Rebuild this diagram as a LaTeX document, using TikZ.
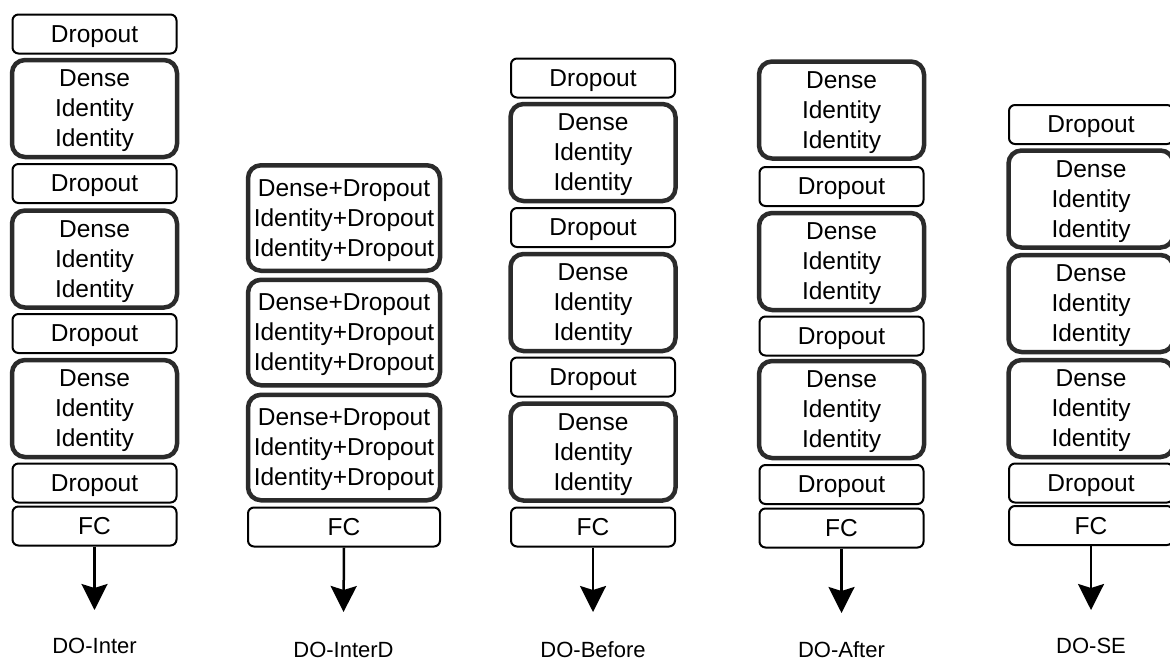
\documentclass[tikz,border=0pt]{standalone}
\usepackage{fontspec}
\setmainfont{Liberation Sans}
\usetikzlibrary{arrows.meta}
\definecolor{thickc}{HTML}{2B2B2B}
\tikzset{
  box/.style={rectangle, inner sep=0pt, align=center, text depth=0pt, font=\fontsize{24.5}{30}\selectfont, fill=white},
  dropbox/.style={box, draw=black, line width=2pt, rounded corners=6pt, minimum width=164pt, minimum height=39pt},
  densebox/.style={box, draw=thickc, line width=4.5pt, rounded corners=13pt, minimum width=165pt, minimum height=97pt},
  widebox/.style={densebox, minimum width=192pt, minimum height=105.5pt},
  widefc/.style={dropbox, minimum width=192pt},
  arr/.style={-{Stealth[length=26pt,width=26pt,inset=4pt]}, line width=2.5pt, black},
  lbl/.style={font=\fontsize{22}{24}\selectfont, inner sep=0pt}
}
\begin{document}
\begin{tikzpicture}[x=1pt,y=-1pt]
\useasboundingbox (0,0) rectangle (1170,662);
% Column 1: DO-Inter
\node[dropbox]  (c1a) at (94.5,34) {Dropout};
\node[densebox] (c1b) at (94.5,108.5) {Dense\\Identity\\Identity};
\node[dropbox]  (c1c) at (94.5,183.5) {Dropout};
\node[densebox] (c1d) at (94.5,259) {Dense\\Identity\\Identity};
\node[dropbox]  (c1e) at (94.5,333.5) {Dropout};
\node[densebox] (c1f) at (94.5,408.5) {Dense\\Identity\\Identity};
\node[dropbox]  (c1g) at (94.5,483) {Dropout};
\node[dropbox]  (c1h) at (94.5,526) {FC};
\coordinate (c1t) at (94.5,610);
\draw[arr] (c1h.south) -- (c1t);
\node[lbl] (c1l) at (94.5,646) {DO-Inter};
% Column 2: DO-InterD
\node[widebox] (c2a) at (344,218) {Dense+Dropout\\Identity+Dropout\\Identity+Dropout};
\node[widebox] (c2b) at (344,332.5) {Dense+Dropout\\Identity+Dropout\\Identity+Dropout};
\node[widebox] (c2c) at (344,447.5) {Dense+Dropout\\Identity+Dropout\\Identity+Dropout};
\node[widefc]  (c2d) at (344,527) {FC};
\coordinate (c2t) at (343.5,612);
\draw[arr] (c2d.south) -- (c2t);
\node[lbl] (c2l) at (343.5,650) {DO-InterD};
% Column 3: DO-Before
\node[dropbox]  (c3a) at (593,78) {Dropout};
\node[densebox] (c3b) at (593,152.5) {Dense\\Identity\\Identity};
\node[dropbox]  (c3c) at (593,227.5) {Dropout};
\node[densebox] (c3d) at (593,302.5) {Dense\\Identity\\Identity};
\node[dropbox]  (c3e) at (593,377) {Dropout};
\node[densebox] (c3f) at (593,452) {Dense\\Identity\\Identity};
\node[dropbox]  (c3g) at (593,527) {FC};
\coordinate (c3t) at (593,612);
\draw[arr] (c3g.south) -- (c3t);
\node[lbl] (c3l) at (593,650) {DO-Before};
% Column 4: DO-After
\node[densebox] (c4a) at (841.5,110) {Dense\\Identity\\Identity};
\node[dropbox]  (c4b) at (841.5,186.5) {Dropout};
\node[densebox] (c4c) at (841.5,261.5) {Dense\\Identity\\Identity};
\node[dropbox]  (c4d) at (841.5,336) {Dropout};
\node[densebox] (c4e) at (841.5,409.5) {Dense\\Identity\\Identity};
\node[dropbox]  (c4f) at (841.5,484.5) {Dropout};
\node[dropbox]  (c4g) at (841.5,528) {FC};
\coordinate (c4t) at (841.5,613);
\draw[arr] (c4g.south) -- (c4t);
\node[lbl] (c4l) at (841.5,650) {DO-After};
% Column 5: DO-SE
\node[dropbox]  (c5a) at (1091,124.5) {Dropout};
\node[densebox] (c5b) at (1091,199) {Dense\\Identity\\Identity};
\node[densebox] (c5c) at (1091,303.5) {Dense\\Identity\\Identity};
\node[densebox] (c5d) at (1091,408.5) {Dense\\Identity\\Identity};
\node[dropbox]  (c5e) at (1091,483) {Dropout};
\node[dropbox]  (c5f) at (1091,525.5) {FC};
\coordinate (c5t) at (1091,610);
\draw[arr] (c5f.south) -- (c5t);
\node[lbl] (c5l) at (1091,646) {DO-SE};
\end{tikzpicture}
\end{document}
